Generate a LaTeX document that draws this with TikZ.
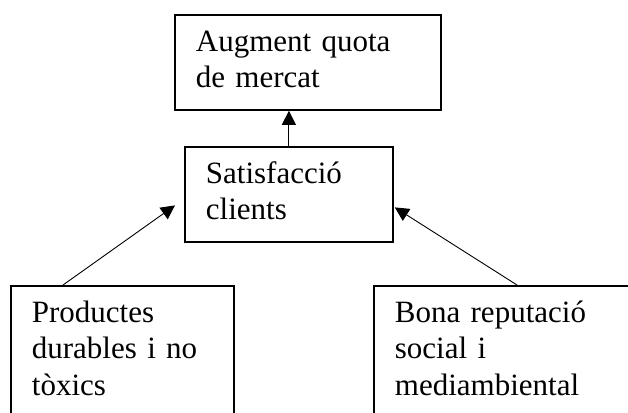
\documentclass[tikz,border=0pt]{standalone}
\usepackage{fontspec}
\setmainfont{Liberation Serif}
\usepackage{tikz}
\usetikzlibrary{arrows.meta,calc,positioning}

\begin{document}
\begin{tikzpicture}[
    x = 1pt, y = -1pt,
    box/.style = {draw, rectangle, line width=1.8pt, anchor=north west, align=left,
                  inner xsep=21pt, inner ysep=11pt, font=\fontsize{31}{36.5}\selectfont},
    arr/.style = {-{Triangle[length=14pt,width=14pt]}, line width=0.9pt}
  ]
  \useasboundingbox (0,0) rectangle (628,412);
  \clip (0,0) rectangle (628,412);
  \node[box, text width=224pt] (quota) at (174,14) {\strut Augment quota\\de mercat\strut};
  \node[box, text width=166pt] (sat) at (184,146) {\strut Satisfacció\\clients\strut};
  \node[box, text width=181pt] (prod) at (10,285) {\strut Productes\\durables i no\\tòxics\strut};
  \node[box, text width=218pt] (rep) at (373,285) {\strut Bona reputació\\social i\\mediambiental\strut};
  \coordinate (tipL) at ($(sat.west)+(-9,11)$);
  \coordinate (tipR) at ($(sat.east)+(1,13)$);
  \draw[arr] (sat.north) -- (sat.north |- quota.south);
  \draw[arr] ($(prod.north west)+(53,0)$) -- (tipL);
  \draw[arr] ($(rep.north west)+(144,0)$) -- (tipR);
\end{tikzpicture}
\end{document}
